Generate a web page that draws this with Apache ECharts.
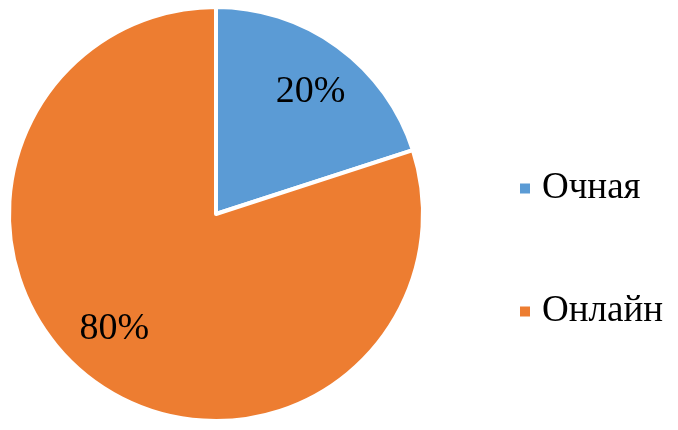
<!DOCTYPE html>
<html>
<head>
<meta charset="utf-8">
<script src="https://cdn.jsdelivr.net/npm/echarts@6/dist/echarts.min.js"></script>
<style>
  html, body { margin: 0; padding: 0; background: #fff; }
  #chart { width: 678px; height: 430px; }
</style>
</head>
<body>
<div id="chart"></div>
<script>
  const categories = ["Очная", "Онлайн"];
  const values = [20, 80];
  const colors = ["#5B9BD5", "#ED7D31"];

  const pieData = categories.map((name, i) => ({
    name: name,
    value: values[i],
    itemStyle: { color: colors[i] },
  }));

  // small nudges so the labels sit where the original has them
  const labelNudge = [[3, 4], [-10, -11]];

  const chart = echarts.init(document.getElementById("chart"));
  chart.setOption({
    animation: false,
    legend: {
      orient: "vertical",
      left: 513,
      top: 165,
      itemWidth: 12,
      itemHeight: 12,
      itemGap: 86,
      icon: "rect",
      data: categories,
      textStyle: {
        fontFamily: "Liberation Serif",
        fontSize: 37,
        color: "#000",
        padding: [0, 0, 0, 6],
      },
    },
    series: [
      {
        type: "pie",
        center: [216, 214],
        radius: [0, 207],
        startAngle: 90,
        clockwise: true,
        silent: true,
        itemStyle: { borderColor: "#fff", borderWidth: 4 },
        label: { show: false },
        labelLine: { show: false },
        data: pieData,
      },
      {
        // invisible ring used only to place the percentage labels
        type: "pie",
        center: [216, 214],
        radius: [0, 306],
        startAngle: 90,
        clockwise: true,
        silent: true,
        itemStyle: { color: "transparent", borderWidth: 0 },
        label: {
          show: true,
          position: "inside",
          formatter: "{d}%",
          fontFamily: "Liberation Serif",
          fontSize: 38,
          color: "#000",
        },
        labelLine: { show: false },
        labelLayout: (p) => ({
          dx: labelNudge[p.dataIndex][0],
          dy: labelNudge[p.dataIndex][1],
        }),
        data: categories.map((name, i) => ({ name: name, value: values[i] })),
      },
    ],
  });
</script>
</body>
</html>
